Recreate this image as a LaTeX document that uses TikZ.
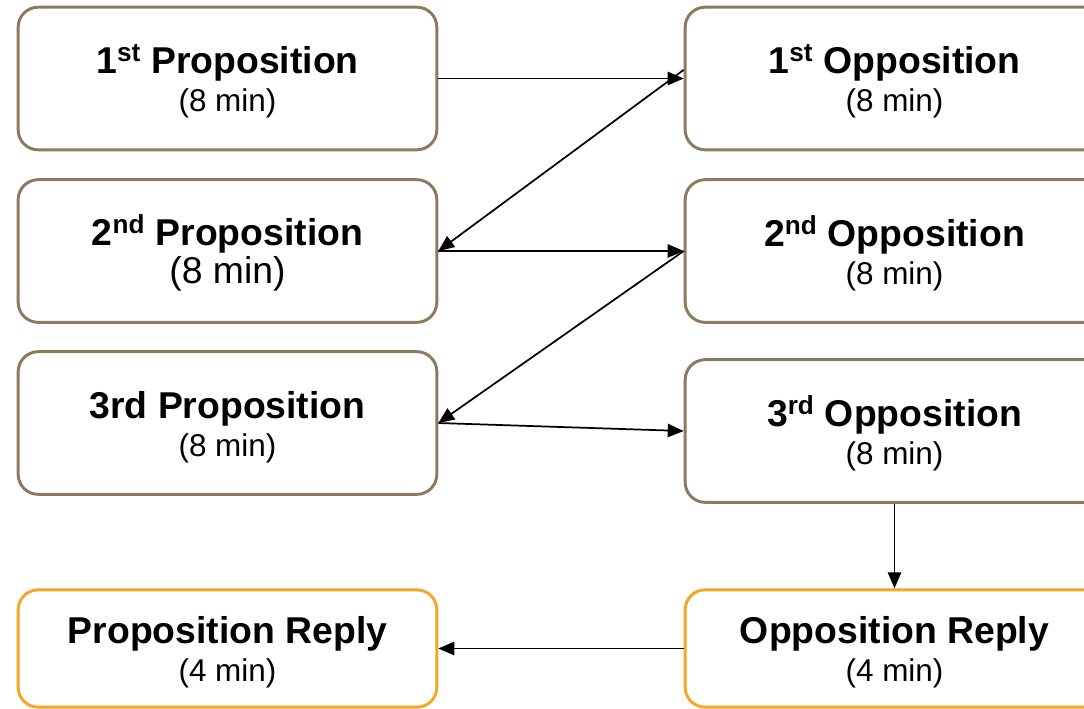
\documentclass[tikz,border=0pt]{standalone}
\usepackage{fontspec}
\setmainfont{Liberation Sans}
\usetikzlibrary{arrows.meta}

\definecolor{boxbrown}{HTML}{8A7B5F}
\definecolor{replyorange}{HTML}{F5A623}

\newcommand{\spk}[1]{{\fontsize{28}{33}\selectfont\bfseries\rule{0pt}{26pt}#1}}
\newcommand{\dur}[1]{{\fontsize{23.6}{28}\selectfont #1}}
\newcommand{\durbig}[1]{{\fontsize{28}{33}\selectfont #1}}

\begin{document}
\begin{tikzpicture}[x=0.75pt,y=-0.75pt,
		box/.style={draw=boxbrown,line width=2.2pt,rounded corners=15pt,fill=white,
			minimum width=314pt,minimum height=107pt,align=center,inner sep=0pt},
		reply/.style={box,draw=replyorange,minimum height=88pt},
		arr/.style={draw=black,line width=1.3pt,-{Triangle[length=12pt,width=10pt]}}]
			\useasboundingbox (0,0) rectangle (1084,708);
			\clip (0,0) rectangle (1084,708);
			
			% Proposition side
			\node[box] (p1) at (227.5,78.5) {\spk{1\textsuperscript{st} Proposition}\\[4.5pt] \dur{(8 min)}};
			\node[box] (p2) at (227.5,251) {\spk{2\textsuperscript{nd} Proposition}\\[2pt] \durbig{(8 min)}};
			\node[box] (p3) at (227.5,423) {\spk{3rd Proposition}\\[4.5pt] \dur{(8 min)}};
			\node[reply] (pr) at (227.5,648.5) {\spk{Proposition Reply}\\[4.5pt] \dur{(4 min)}};
			
			% Opposition side
			\node[box] (o1) at (894.5,78.5) {\spk{1\textsuperscript{st} Opposition}\\[4.5pt] \dur{(8 min)}};
			\node[box] (o2) at (894.5,251) {\spk{2\textsuperscript{nd} Opposition}\\[4.5pt] \dur{(8 min)}};
			\node[box] (o3) at (894.5,431) {\spk{3\textsuperscript{rd} Opposition}\\[4.5pt] \dur{(8 min)}};
			\node[reply] (or) at (894.5,648.5) {\spk{Opposition Reply}\\[4.5pt] \dur{(4 min)}};
			
			% Speaking order
			\draw[arr] (p1.east) -- (o1.west);
			\draw[arr] ([yshift=6.5pt]o1.west) -- (p2.east);
			\draw[arr] (p2.east) -- (o2.west);
			\draw[arr] (o2.west) -- (p3.east);
			\draw[arr] (p3.east) -- (o3.west);
			\draw[arr] (o3.south) -- (or.north);
			\draw[arr] (or.west) -- (pr.east);
		\end{tikzpicture}
\end{document}
